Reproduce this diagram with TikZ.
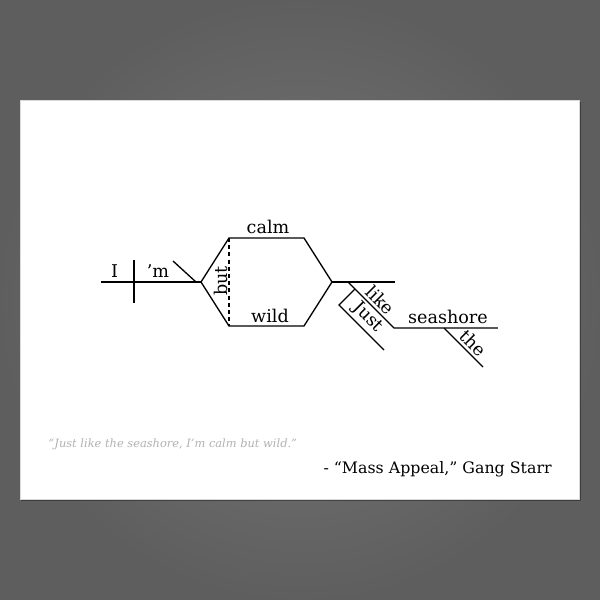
\documentclass[tikz,border=0pt]{standalone}
\usepackage{fontspec}
\setmainfont{DejaVu Serif}
\definecolor{bgin}{gray}{0.47}
\definecolor{bgout}{gray}{0.37}
\definecolor{quotegray}{gray}{0.70}
\tikzset{
	diagline/.style={line width=0.75pt},
	word/.style={anchor=base, inner sep=0pt, font=\fontsize{10}{12}\selectfont},
	slantword/.style={sloped, above, inner sep=1.5pt, font=\fontsize{10}{12}\selectfont},
}
\begin{document}
\begin{tikzpicture}[x=0.02cm, y=-0.02cm]
	\useasboundingbox (0,0) rectangle (600,600);
	\shade[inner color=bgin, outer color=bgout] (0,0) rectangle (600,600);
	\fill[black, opacity=0.35] (21,101.5) rectangle (581.5,501);
	\fill[white, draw=black!15, line width=0.4pt] (20,100) rectangle (579,499);

	% base line and hexagon
	\coordinate (start) at (101,282);
	\coordinate (divTop) at (134,260);
	\coordinate (divBot) at (134,303);
	\coordinate (slantTop) at (173,261);
	\coordinate (slantFoot) at (196,282);
	\coordinate (hexL) at (201,282);
	\coordinate (hexTL) at (229,238);
	\coordinate (hexTR) at (304,238);
	\coordinate (hexR) at (332,282);
	\coordinate (hexBR) at (304,326);
	\coordinate (hexBL) at (229,326);
	\coordinate (endR) at (395,282);

	\draw[diagline] (start) -- (hexL);
	\draw[diagline] (divTop) -- (divBot);
	\draw[diagline] (slantTop) -- (slantFoot);
	\draw[diagline] (hexL) -- (hexTL) -- (hexTR) -- (hexR) -- (hexBR) -- (hexBL) -- cycle;
	\draw[diagline, dash pattern=on 2.3pt off 1.8pt] (hexTL) -- (hexBL);
	\draw[diagline] (hexR) -- (endR);

	\node[word] (wI) at (114.5,277) {I};
	\node[word] (wM) at (158,277) {’m};
	\node[word] (wCalm) at (268,233) {calm};
	\node[word] (wWild) at (270,322) {wild};
	\node[word, rotate=90] (wBut) at (227.5,281) {but};

	% prepositional phrase
	\coordinate (likeTop) at (348,282);
	\coordinate (likeFoot) at (394,328);
	\coordinate (shoreEnd) at (498,328);
	\coordinate (justTop) at (355,289);
	\coordinate (justKnee) at (339,305);
	\coordinate (justFoot) at (384,350);
	\coordinate (theTop) at (444,328);
	\coordinate (theFoot) at (483,367);

	\draw[diagline] (likeTop) -- node[slantword, pos=.55] (wLike) {like} (likeFoot) -- (shoreEnd);
	\draw[diagline] (justTop) -- (justKnee) -- node[slantword, pos=.46] (wJust) {Just} (justFoot);
	\draw[diagline] (theTop) -- node[slantword, pos=.56] (wThe) {the} (theFoot);
	\node[word] (wShore) at (448,323) {seashore};

	\node[anchor=base west, inner sep=0pt, text=quotegray, font=\fontsize{6.5}{8}\selectfont\itshape] (quote) at (48,447) {“Just like the seashore, I’m calm but wild.”};
	\node[anchor=base east, inner sep=0pt, font=\fontsize{9}{11}\selectfont] (credit) at (552,473) {- “Mass Appeal,” Gang Starr};
\end{tikzpicture}
\end{document}
